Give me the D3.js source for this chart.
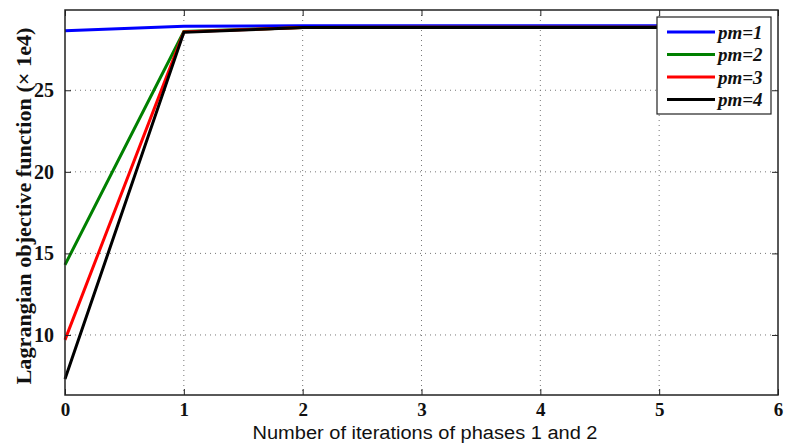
<!DOCTYPE html>
<html>
<head>
<meta charset="utf-8">
<script src="https://cdn.jsdelivr.net/npm/d3@7"></script>
<style>
  html, body { margin: 0; padding: 0; background: #fff; }
  svg { display: block; }
</style>
</head>
<body>
<svg id="chart" width="786" height="446"></svg>
<script>
// Iteration index (phases 1 and 2)
const iterations = [0, 1, 2, 3, 4, 5];
// Lagrangian objective value (x 1e4) for each pm setting
const pm1 = [28.65, 28.92, 28.95, 28.96, 28.96, 28.96];
const pm2 = [14.3, 28.6, 28.85, 28.86, 28.86, 28.86];
const pm3 = [9.7, 28.58, 28.85, 28.86, 28.86, 28.86];
const pm4 = [7.3, 28.55, 28.84, 28.85, 28.85, 28.85];
const seriesNames = ["pm=1", "pm=2", "pm=3", "pm=4"];
const seriesColors = ["#0000ff", "#008000", "#ff0000", "#000000"];
const xTicks = [0, 1, 2, 3, 4, 5, 6];
const yTicks = [10, 15, 20, 25];

const seriesValues = [pm1, pm2, pm3, pm4];

const svg = d3.select("#chart");
const plot = { left: 65, right: 778, top: 10, bottom: 395 };

const x = d3.scaleLinear().domain([0, 6]).range([plot.left, plot.right]);
const y = d3.scaleLinear().domain([6.32, 29.92]).range([plot.bottom, plot.top]);

// dotted grid
const grid = svg.append("g");
grid.selectAll("line.gx").data(xTicks.slice(1, -1)).join("line")
  .attr("x1", d => x(d)).attr("x2", d => x(d))
  .attr("y1", plot.top).attr("y2", plot.bottom)
  .attr("stroke", "#777").attr("stroke-width", 1)
  .attr("stroke-dasharray", "1,4");
grid.selectAll("line.gy").data(yTicks).join("line")
  .attr("x1", plot.left).attr("x2", plot.right)
  .attr("y1", d => y(d)).attr("y2", d => y(d))
  .attr("stroke", "#777").attr("stroke-width", 1)
  .attr("stroke-dasharray", "1,4");

// series lines
const line = d3.line().x((d, i) => x(iterations[i])).y(d => y(d));
svg.append("g").selectAll("path").data(seriesValues).join("path")
  .attr("d", d => line(d))
  .attr("fill", "none")
  .attr("stroke", (d, i) => seriesColors[i])
  .attr("stroke-width", 3)
  .attr("stroke-linejoin", "miter");

// axes with inward ticks
const xAxis = d3.axisBottom(x).tickValues(xTicks).tickSize(-6).tickPadding(8).tickFormat(d3.format("d"));
const gx = svg.append("g").attr("transform", `translate(0,${plot.bottom})`).call(xAxis);
const xAxisTop = d3.axisTop(x).tickValues(xTicks).tickSize(-6).tickFormat("");
const gxt = svg.append("g").attr("transform", `translate(0,${plot.top})`).call(xAxisTop);
const yAxis = d3.axisLeft(y).tickValues(yTicks).tickSize(-6).tickPadding(11).tickFormat(d3.format("d"));
const gy = svg.append("g").attr("transform", `translate(${plot.left},0)`).call(yAxis);
const yAxisRight = d3.axisRight(y).tickValues(yTicks).tickSize(-6).tickFormat("");
const gyr = svg.append("g").attr("transform", `translate(${plot.right},0)`).call(yAxisRight);

[gx, gxt, gy, gyr].forEach(g => {
  g.attr("font-family", null).attr("font-size", null);
  g.select(".domain").remove();
  g.selectAll(".tick line").attr("stroke", "#222").attr("stroke-width", 1);
  g.selectAll("text")
    .attr("font-family", "'Liberation Serif', 'Times New Roman', serif")
    .attr("font-weight", "bold")
    .attr("font-size", 20)
    .attr("fill", "#111");
});
gx.selectAll("text").attr("font-size", 19);

// plot frame
svg.append("rect")
  .attr("x", plot.left).attr("y", plot.top)
  .attr("width", plot.right - plot.left).attr("height", plot.bottom - plot.top)
  .attr("fill", "none").attr("stroke", "#222").attr("stroke-width", 1.5);

// axis titles
svg.append("text")
  .attr("x", 425).attr("y", 438.5)
  .attr("text-anchor", "middle")
  .attr("textLength", 345).attr("lengthAdjust", "spacingAndGlyphs")
  .attr("font-family", "'Liberation Sans', Arial, sans-serif")
  .attr("font-size", 18)
  .attr("fill", "#111")
  .text("Number of iterations of phases 1 and 2");

svg.append("text")
  .attr("transform", "translate(31,206) rotate(-90)")
  .attr("text-anchor", "middle")
  .attr("textLength", 357).attr("lengthAdjust", "spacingAndGlyphs")
  .attr("font-family", "'Liberation Serif', 'Times New Roman', serif")
  .attr("font-weight", "bold")
  .attr("font-size", 21)
  .attr("fill", "#111")
  .text("Lagrangian objective function (\u00d7 1e4)");

// legend
const legend = svg.append("g").attr("transform", "translate(657,17)");
legend.append("rect")
  .attr("width", 114).attr("height", 97)
  .attr("fill", "#fff").attr("stroke", "#222").attr("stroke-width", 1.2);
const rows = legend.selectAll("g.row").data(seriesNames).join("g")
  .attr("transform", (d, i) => `translate(0,${15 + i * 22.5})`);
rows.append("line")
  .attr("x1", 10).attr("x2", 58).attr("y1", 0).attr("y2", 0)
  .attr("stroke", (d, i) => seriesColors[i]).attr("stroke-width", 3);
rows.append("text")
  .attr("x", 61).attr("y", 6.5)
  .attr("font-family", "'Liberation Serif', 'Times New Roman', serif")
  .attr("font-style", "italic")
  .attr("font-weight", "bold")
  .attr("font-size", 19)
  .attr("fill", "#111")
  .text(d => d);
</script>
</body>
</html>
